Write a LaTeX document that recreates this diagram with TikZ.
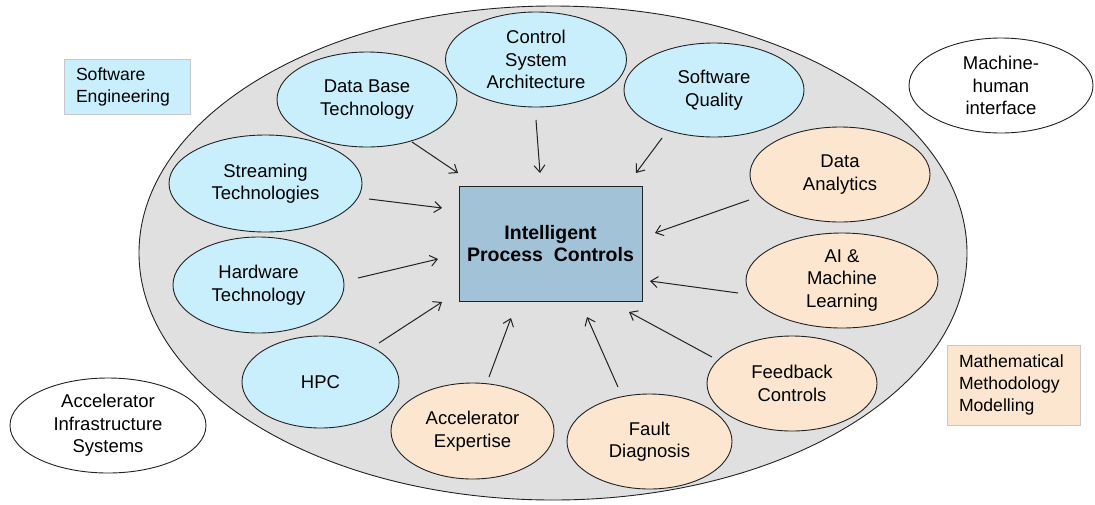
\documentclass[tikz,border=0pt]{standalone}
\usepackage{fontspec}
\setmainfont{Liberation Sans}
\usetikzlibrary{shapes.geometric,arrows.meta}
\definecolor{bigfill}{HTML}{E0E0E0}
\definecolor{cyanfill}{HTML}{C9EEFC}
\definecolor{peachfill}{HTML}{FCE6D0}
\definecolor{boxfill}{HTML}{A2C2D8}
\definecolor{legendline}{HTML}{C8C8C8}
\definecolor{inkline}{HTML}{222222}
\tikzset{
  topic/.style={ellipse, draw=inkline, line width=0.9pt, inner sep=0pt, align=center,
    font=\fontsize{18.5}{22.5}\selectfont},
  blue/.style={topic, fill=cyanfill},
  peach/.style={topic, fill=peachfill},
  outer/.style={topic, fill=white},
  legend/.style={rectangle, draw=legendline, line width=0.6pt, inner xsep=12pt, align=left,
    font=\fontsize{17.6}{22}\selectfont},
  feed/.style={line width=1pt, draw=inkline, -{Straight Barb[length=7pt,width=11pt,line width=1pt]}}
}
\begin{document}
\begin{tikzpicture}[x=1pt,y=-1pt]
\useasboundingbox (0,0) rectangle (1095,504);
% big ellipse
\node[ellipse, draw=inkline, line width=0.9pt, fill=bigfill, inner sep=0pt,
  minimum width=828pt, minimum height=494pt] (big) at (553,253) {};
% centre box
\node[rectangle, draw=inkline, line width=0.9pt, fill=boxfill, minimum width=183pt, minimum height=115pt,
  align=center, font=\fontsize{19.5}{22.5}\selectfont\bfseries] (ipc) at (550.5,243.5) {Intelligent\\Process\ \ Controls};
% blue ellipses
\node[blue, minimum width=181pt, minimum height=95pt] (csa) at (536,59.5) {Control\\System\\Architecture};
\node[blue, minimum width=180pt, minimum height=95pt] (dbt) at (367,99.5) {Data Base\\Technology};
\node[blue, minimum width=180pt, minimum height=94pt] (swq) at (714,90) {Software\\Quality};
\node[blue, minimum width=193pt, minimum height=97pt] (str) at (265.5,183.5) {Streaming\\Technologies};
\node[blue, minimum width=171pt, minimum height=96pt] (hwt) at (258.5,285) {Hardware\\Technology};
\node[blue, minimum width=157pt, minimum height=92pt] (hpc) at (320.5,382) {HPC};
% peach ellipses
\node[peach, minimum width=163pt, minimum height=96pt] (acx) at (472.5,431) {Accelerator\\Expertise};
\node[peach, minimum width=165pt, minimum height=95pt] (fdg) at (649.5,441.5) {Fault\\Diagnosis};
\node[peach, minimum width=170pt, minimum height=95pt] (fbc) at (792,383.5) {Feedback\\Controls};
\node[peach, minimum width=192pt, minimum height=95pt] (aiml) at (842,280.5) {AI \&\\Machine\\Learning};
\node[peach, minimum width=180pt, minimum height=95pt] (dan) at (840,174.5) {Data\\Analytics};
% outside ellipses
\node[outer, minimum width=184pt, minimum height=95pt] (mhi) at (1001,85.5) {Machine-\\human\\interface};
\node[outer, minimum width=196pt, minimum height=95pt] (ais) at (108,425.5) {Accelerator\\Infrastructure\\Systems};
% legends
\node[legend, fill=cyanfill, text width=102pt, minimum height=55pt] (lse) at (127,86.5) {Software\\Engineering};
\node[legend, fill=peachfill, text width=109pt, minimum height=80pt] (lmm) at (1013.5,385) {Mathematical\\Methodology\\Modelling};
% arrow end points
\coordinate (dbS) at (412,142);  \coordinate (dbE) at (458,173);
\coordinate (csS) at (536,120);  \coordinate (csE) at (540,173);
\coordinate (sqS) at (662,138);  \coordinate (sqE) at (636,173);
\coordinate (stS) at (369,199);  \coordinate (stE) at (442,208);
\coordinate (hwS) at (358,278);  \coordinate (hwE) at (438,259);
\coordinate (hpS) at (379,343);  \coordinate (hpE) at (442,302);
\coordinate (axS) at (489,377);  \coordinate (axE) at (511,318);
\coordinate (fdS) at (618,387);  \coordinate (fdE) at (587,317);
\coordinate (fbS) at (712,357);  \coordinate (fbE) at (629,312);
\coordinate (aiS) at (738,293);  \coordinate (aiE) at (650,281);
\coordinate (daS) at (749,200);  \coordinate (daE) at (655,233);
\draw[feed] (dbS) -- (dbE);
\draw[feed] (csS) -- (csE);
\draw[feed] (sqS) -- (sqE);
\draw[feed] (stS) -- (stE);
\draw[feed] (hwS) -- (hwE);
\draw[feed] (hpS) -- (hpE);
\draw[feed] (axS) -- (axE);
\draw[feed] (fdS) -- (fdE);
\draw[feed] (fbS) -- (fbE);
\draw[feed] (aiS) -- (aiE);
\draw[feed] (daS) -- (daE);
\end{tikzpicture}
\end{document}
